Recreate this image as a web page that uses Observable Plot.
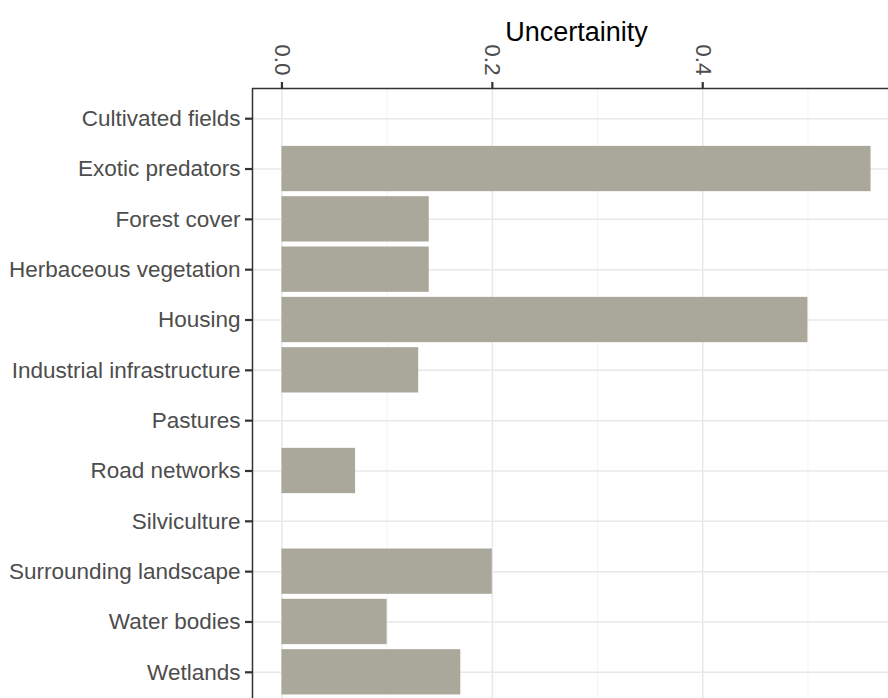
<!DOCTYPE html>
<html><head><meta charset="utf-8">
<script src="https://cdn.jsdelivr.net/npm/d3@7"></script>
<script src="https://cdn.jsdelivr.net/npm/@observablehq/plot@0.6"></script>
<style>body{margin:0;background:#fff} #chart svg{display:block}</style>
</head><body><div id="chart"></div>
<script>
const categories = ["Cultivated fields","Exotic predators","Forest cover","Herbaceous vegetation","Housing","Industrial infrastructure","Pastures","Road networks","Silviculture","Surrounding landscape","Water bodies","Wetlands"];
const uncertainty = [0, 0.56, 0.14, 0.14, 0.50, 0.13, 0, 0.07, 0, 0.20, 0.10, 0.17];
const majorTicks = [0, 0.2, 0.4];
const minorTicks = [0.1, 0.3, 0.5];
const title = "Uncertainity";
const data = categories.map((c, i) => ({category: c, value: uncertainty[i]}));

const chart = Plot.plot({
  width: 888, height: 698,
  marginLeft: 252, marginRight: -12, marginTop: 88, marginBottom: -4,
  style: {fontFamily: "'Liberation Sans', Arial, sans-serif", fontSize: "22.5px", background: "white", overflow: "hidden"},
  x: {domain: [-0.028, 0.588], axis: null},
  y: {domain: categories, paddingInner: 0.1, paddingOuter: 0.15, round: false, axis: null},
  marks: [
    Plot.ruleX(minorTicks, {stroke: "#f3f3f3", strokeWidth: 1}),
    Plot.ruleX(majorTicks, {stroke: "#e8e8e8", strokeWidth: 1.5}),
    Plot.gridY({stroke: "#e8e8e8", strokeOpacity: 1, strokeWidth: 1.5}),
    Plot.barX(data, {x: "value", y: "category", fill: "#aaa79b"}),
    Plot.frame({stroke: "#333", strokeWidth: 1.5}),
    Plot.axisY({anchor: "left", tickSize: 7, tickPadding: 5, stroke: "#333", strokeWidth: 2.2, strokeOpacity: 1, fill: "#4d4d4d", label: null}),
    Plot.axisX({anchor: "top", ticks: majorTicks, tickSize: 7, tickPadding: 6, tickRotate: 90, tickFormat: d3.format(".1f"), stroke: "#333", strokeWidth: 2.2, strokeOpacity: 1, fill: "#4d4d4d", label: null}),
    Plot.text([title], {frameAnchor: "top", dy: -67, fontSize: 27, fill: "black"})
  ]
});
d3.select(chart).selectAll("g[aria-label$='tick'] path").attr("stroke", "#333").attr("stroke-width", 2.2).attr("stroke-opacity", 1);
document.getElementById("chart").appendChild(chart);
</script>
</body></html>
